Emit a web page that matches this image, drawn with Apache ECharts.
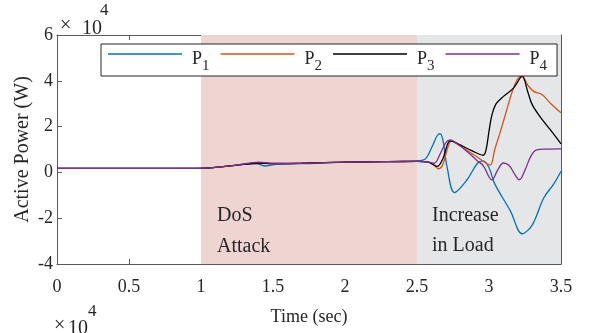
<!DOCTYPE html>
<html><head><meta charset="utf-8">
<script src="https://cdn.jsdelivr.net/npm/echarts@6/dist/echarts.min.js"></script>
<style>html,body{margin:0;padding:0;background:#fff}#c{width:592px;height:333px}</style>
</head><body><div id="c"></div>
<script>
// Time (sec) and active power (x 10^4 W) per series
const t1 = [0, 0.98, 1.1, 1.25, 1.38, 1.45, 1.52, 1.7, 2.0, 2.3, 2.5, 2.56, 2.61, 2.64, 2.66, 2.68, 2.71, 2.76, 2.85, 2.92, 2.96, 3.0, 3.04, 3.15, 3.23, 3.3, 3.38, 3.45, 3.5];
const p1 = [0.18, 0.18, 0.22, 0.32, 0.38, 0.28, 0.35, 0.38, 0.45, 0.47, 0.5, 0.6, 1.2, 1.6, 1.69, 1.4, 0.2, -0.88, -0.3, 0.4, 0.5, 0.2, -0.5, -1.7, -2.68, -2.3, -1.12, -0.5, 0.05];
const t2 = [0, 0.98, 1.1, 1.25, 1.4, 1.5, 1.7, 2.0, 2.3, 2.5, 2.58, 2.62, 2.65, 2.68, 2.71, 2.74, 2.8, 2.9, 2.98, 3.01, 3.04, 3.08, 3.12, 3.16, 3.2, 3.23, 3.27, 3.31, 3.37, 3.43, 3.5];
const p2 = [0.18, 0.18, 0.22, 0.32, 0.42, 0.38, 0.4, 0.45, 0.47, 0.48, 0.45, 0.3, 0.16, 0.35, 1.0, 1.38, 1.15, 0.75, 0.4, 0.32, 1.0, 1.8, 2.66, 3.5, 4.1, 4.19, 3.8, 3.54, 3.39, 3.0, 2.6];
const t3 = [0, 0.98, 1.1, 1.25, 1.4, 1.5, 1.7, 2.0, 2.3, 2.5, 2.58, 2.61, 2.64, 2.68, 2.71, 2.73, 2.8, 2.88, 2.96, 2.98, 3.0, 3.02, 3.05, 3.1, 3.17, 3.23, 3.27, 3.3, 3.37, 3.44, 3.5];
const p3 = [0.18, 0.18, 0.22, 0.32, 0.4, 0.38, 0.4, 0.45, 0.47, 0.48, 0.45, 0.35, 0.26, 0.6, 1.2, 1.38, 1.2, 0.95, 0.75, 1.0, 1.8, 2.5, 3.0, 3.32, 3.68, 4.19, 3.5, 2.96, 2.3, 1.75, 1.25];
const t4 = [0, 0.98, 1.1, 1.25, 1.4, 1.5, 1.7, 2.0, 2.3, 2.5, 2.58, 2.62, 2.66, 2.7, 2.73, 2.78, 2.85, 2.92, 2.96, 3.0, 3.02, 3.06, 3.1, 3.14, 3.18, 3.21, 3.25, 3.29, 3.33, 3.4, 3.5];
const p4 = [0.18, 0.18, 0.22, 0.32, 0.45, 0.4, 0.4, 0.45, 0.47, 0.48, 0.45, 0.4, 0.8, 1.3, 1.42, 1.25, 0.9, 0.5, 0.3, -0.2, -0.33, 0.1, 0.41, 0.3, -0.1, -0.32, 0.1, 0.7, 0.98, 1.02, 1.03];
const seriesNames = ['P1', 'P2', 'P3', 'P4'];
const attackStart = 1.0, attackEnd = 2.5, loadEnd = 3.5;
const xTicks = [0, 0.5, 1, 1.5, 2, 2.5, 3, 3.5];
const yTicks = [-4, -2, 0, 2, 4, 6];

const colors = ['#0072BD', '#D95319', '#000000', '#7E2F8E'];
const FONT = 'Liberation Serif';
const times = [t1, t2, t3, t4], vals = [p1, p2, p3, p4];
const axisCol = '#5a5a5a', txtCol = '#262626';

const chart = echarts.init(document.getElementById('c'), null, {renderer: 'canvas'});
const baseX = {type: 'value', min: xTicks[0], max: xTicks[xTicks.length - 1], interval: 0.5,
  axisLine: {show: true, onZero: false, lineStyle: {color: axisCol, width: 1}},
  axisTick: {show: true, inside: true, length: 5, lineStyle: {color: axisCol}},
  splitLine: {show: false}};
const baseY = {type: 'value', min: yTicks[0], max: yTicks[yTicks.length - 1], interval: 2,
  axisLine: {show: true, onZero: false, lineStyle: {color: axisCol, width: 1}},
  axisTick: {show: true, inside: true, length: 5, lineStyle: {color: axisCol}},
  splitLine: {show: false}};

const series = [{
  type: 'line', name: 'bg', data: [], z: 1, silent: true,
  markArea: {silent: true, data: [
    [{xAxis: attackStart, itemStyle: {color: '#eed5d2'}}, {xAxis: attackEnd}],
    [{xAxis: attackEnd, itemStyle: {color: '#e5e6e8'}}, {xAxis: loadEnd}]
  ]}
}];
seriesNames.forEach((n, k) => {
  series.push({
    type: 'line', name: n, z: 3, showSymbol: false, symbol: 'none', smooth: 0.35,
    lineStyle: {color: colors[k], width: 1.3}, itemStyle: {color: colors[k]},
    data: times[k].map((t, i) => [t, vals[k][i]])
  });
});

const txt = (left, top, text, size) => ({type: 'text', left: left, top: top, z: 100, zlevel: 1,
  style: {text: text, font: size + 'px "Liberation Serif"', fill: txtCol}});

chart.setOption({
  animation: false,
  grid: {left: 57, right: 31, top: 35, bottom: 69, containLabel: false},
  xAxis: [
    Object.assign({}, baseX, {position: 'bottom', name: 'Time (sec)', nameLocation: 'middle', nameGap: 44,
      nameMoveOverlap: false,
      nameTextStyle: {fontFamily: FONT, fontSize: 18, color: txtCol},
      axisLabel: {fontFamily: FONT, fontSize: 18, color: txtCol, margin: 14}}),
    Object.assign({}, baseX, {position: 'top', axisLabel: {show: false}})
  ],
  yAxis: [
    Object.assign({}, baseY, {position: 'left', name: 'Active Power (W)', nameLocation: 'middle', nameGap: 24,
      nameMoveOverlap: false,
      nameTextStyle: {fontFamily: FONT, fontSize: 20, color: txtCol},
      axisLabel: {fontFamily: FONT, fontSize: 18, color: txtCol, margin: 4}}),
    Object.assign({}, baseY, {position: 'right', axisLabel: {show: false}})
  ],
  legend: {
    data: seriesNames, left: 101, top: 44, orient: 'horizontal',
    icon: 'rect', itemWidth: 74, itemHeight: 1.5, itemGap: 11,
    backgroundColor: '#ffffff', borderColor: '#262626', borderWidth: 1, borderRadius: 0,
    padding: [1, 10, 2, 7],
    formatter: n => '{a|' + n.charAt(0) + '}{b|' + n.slice(1) + '}',
    textStyle: {fontFamily: FONT, color: txtCol, padding: [0, 0, 0, 5],
      rich: {a: {fontFamily: FONT, fontSize: 18, lineHeight: 18, padding: [5, 0, 0, 0], verticalAlign: 'top', color: txtCol},
             b: {fontFamily: FONT, fontSize: 15, lineHeight: 15, padding: [14, 0, 0, 0], verticalAlign: 'top', color: txtCol}}}
  },
  graphic: [
    txt(217, 206, 'DoS', 20),
    txt(217, 237, 'Attack', 20),
    txt(432, 206, 'Increase', 20),
    txt(432, 236, 'in Load', 20),
    txt(60, 16, '\u00d7', 20),
    txt(82, 19, '10', 20),
    txt(100, 2, '4', 17),
    txt(54, 316, '\u00d7', 20),
    txt(68, 319, '10', 20),
    txt(88, 303, '4', 17)
  ],
  series: series
});
</script></body></html>
